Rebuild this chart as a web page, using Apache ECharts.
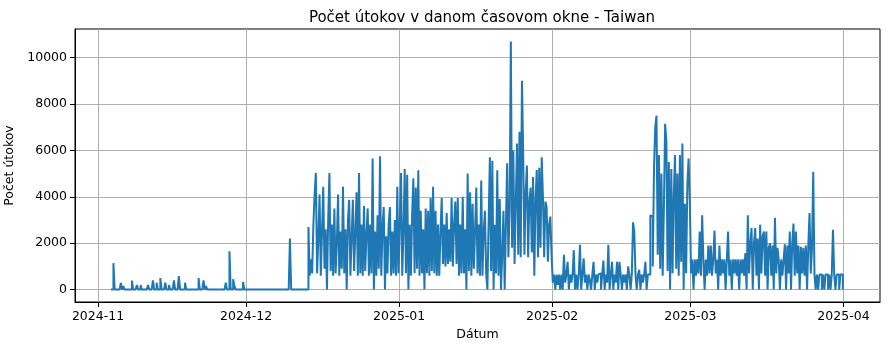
<!DOCTYPE html>
<html>
<head>
<meta charset="utf-8">
<script src="https://cdn.jsdelivr.net/npm/echarts@6/dist/echarts.min.js"></script>
<style>html,body{margin:0;padding:0;background:#fff}#c{width:888px;height:350px}</style>
</head>
<body>
<div id="c"></div>
<script>
// 6-hourly counts (00h, 06h, 12h, 18h per day), starting 2024-11-01 00:00 UTC
const nov = [
  null,null,null,null, null,null,null,null, null,null,null,0, 0,1140,0,0, 0,0,0,290,
  0,150,0,0, 0,0,0,0, 390,0,0,0, 200,0,0,200, 0,0,0,0,
  0,200,0,0, 0,400,0,0, 300,0,0,500, 0,0,0,300, 0,0,200,0,
  0,0,400,0, 0,0,580,0, 0,0,0,300, 0,0,0,0, 0,0,0,0,
  0,0,500,0, 0,0,400,0, 150,0,0,0, 0,0,0,0, 0,0,0,0,
  0,0,0,0, 300,0,0,1650, 0,0,450,150, 0,0,0,0, 0,0,330,0
];
const dec = [
  0,0,0,0, 0,0,0,0, 0,0,0,0, 0,0,0,0, 0,0,0,0,
  0,0,0,0, 0,0,0,0, 0,0,0,0, 0,0,0,0, 2200,0,0,0,
  0,0,0,0, 0,0,0,0, 0,0,0,2700, 600,1300,700,2800, 4100,5030,700,2200,
  4100,600,2500,4430, 900,2600,0,3000, 5030,800,2800,600, 3500,700,2000,4100, 600,2500,900,4430,
  700,2600,0,3000, 3870,600,2200,3870, 800,2500,4200,600, 5030,700,2800,600, 3600,800,2400,3500,
  600,2800,700,5650, 0,2500,600,3200, 900,5750,600,2700, 3560,0,2300,700, 2800,3560,600,2500,
  700,3000,600,4430
];
const jan = [
  700,2800,5030,600, 2500,5200,700,4950, 0,2800,600,3200, 4800,700,4400,900, 5150,600,3400,700,
  2600,0,3500,700, 3400,600,3950,800, 4430,700,3400,600, 2800,600,2500,3950, 1100,2800,1000,3300,
  1100,2600,1200,3950, 1000,2800,3800,1100, 3950,600,2800,700, 4000,700,2600,0, 5000,800,4200,600,
  3700,900,2500,4400, 700,2800,600,4700, 600,2500,3400,700, 0,2900,5700,800, 5550,0,2800,700,
  5150,600,3900,0, 1500,3400,0,2800, 5450,1400,3500,10700, 1800,6000,1100,3800, 6300,1500,6800,1400,
  9000,5850,1500,4200, 5350,1400,3800,4400, 1600,4850,600,3900, 5150,1400,5250,1800, 5700,4000,1400,3800,
  3550,1200,2800,3150
];
const feb = [
  1450,300,650,0, 650,200,650,0, 650,0,1500,300, 650,1200,0,650, 300,650,1700,0,
  650,0,650,1930, 0,650,1350,300, 650,0,650,400, 0,650,1200,0, 650,300,650,700,
  0,650,1250,0, 650,300,1930,0, 650,1200,0,650, 300,1200,0,1200, 650,0,650,300,
  650,0,1000,650, 0,650,2900,2500, 650,0,650,850, 0,650,300,650, 1200,0,650,650,
  3200,3150,1000,5300, 7000,7500,1500,5800, 900,5000,600,3500, 7150,6400,800,5500, 0,5200,700,4000,
  5800,900,5000,600, 5800,1200,6300,0, 3700,700,4500,5650
];
const mar = [
  3800,700,1300,0, 1300,600,1300,700, 2500,600,3200,1300, 0,1300,600,1900, 700,1900,600,1300,
  2550,700,1300,0, 1900,600,1300,700, 1300,0,1300,2500, 600,1300,0,1300, 700,1300,600,1300,
  0,1300,700,1300, 600,1570,0,3200, 700,2000,2650,0, 2000,2650,600,2200, 0,2800,700,2300,
  2500,600,2500,0, 1800,2000,600,1900, 0,3100,700,1800, 1300,0,1300,600, 1300,1950,0,1900,
  700,2500,0,2000, 2850,600,2500,700, 1900,0,1850,700, 1800,600,1900,0, 1900,3300,700,1800,
  5080,650,0,650, 0,650,650,0, 650,0,650,650, 0,650,0,650, 2580,650,0,650,
  650,0,650,650
];
const apr = [0];

const monthStarts = ['2024-11-01','2024-12-01','2025-01-01','2025-02-01','2025-03-01','2025-04-01'];
const xTickLabels = ['2024-11','2024-12','2025-01','2025-02','2025-03','2025-04'];
const yTicks = [0,2000,4000,6000,8000,10000];

const DAY = 864e5;
const t0 = Date.UTC(2024,10,1);
const all = [].concat(nov,dec,jan,feb,mar,apr);
const seriesData = all.map((v,i)=>[t0 + i*DAY/4, v]);
const monthTs = monthStarts.map(s=>Date.parse(s+'T00:00:00Z'));

const font = 'DejaVu Sans';
const chart = echarts.init(document.getElementById('c'), null, {renderer:'canvas'});
chart.setOption({
  animation: false,
  backgroundColor: '#fff',
  textStyle: {fontFamily: font},
  title: {
    text: 'Počet útokov v danom časovom okne - Taiwan',
    left: 477, top: 6, textAlign: 'center',
    textStyle: {fontFamily: font, fontSize: 15, fontWeight: 'normal', color: '#000'}
  },
  grid: {left: 75, right: 8, top: 29, bottom: 48, outerBoundsMode: 'none', containLabel: false,
    show: true, borderColor: '#000', borderWidth: 1, backgroundColor: 'transparent'},
  xAxis: {
    type: 'value',
    min: t0 - 4.66*DAY, max: t0 + 158.4*DAY,
    name: 'Dátum', nameLocation: 'middle', nameGap: 26,
    nameTextStyle: {fontFamily: font, fontSize: 12.5, color: '#000'},
    axisLine: {show: true, onZero: false, lineStyle: {color: '#000', width: 1}},
    axisTick: {show: true, inside: false, length: 5, lineStyle: {color: '#000'}, customValues: monthTs},
    axisLabel: {customValues: monthTs, margin: 8, fontFamily: font, fontSize: 12.5, color: '#000',
      formatter: function(v){ const i = monthTs.indexOf(v); return i>=0 ? xTickLabels[i] : ''; }},
    splitLine: {show: true, lineStyle: {color: '#b0b0b0', width: 1}}
  },
  yAxis: {
    type: 'value',
    min: -535, max: 11235,
    name: 'Počet útokov', nameLocation: 'middle', nameGap: 52, nameRotate: 90,
    nameTextStyle: {fontFamily: font, fontSize: 12.5, color: '#000'},
    axisLine: {show: true, onZero: false, lineStyle: {color: '#000', width: 1}},
    axisTick: {show: true, inside: false, length: 5, lineStyle: {color: '#000'}, customValues: yTicks},
    axisLabel: {customValues: yTicks, margin: 8, fontFamily: font, fontSize: 12.5, color: '#000',
      formatter: function(v){ return String(v); }},
    splitLine: {show: true, lineStyle: {color: '#b0b0b0', width: 1}}
  },
  series: [{
    type: 'line',
    data: seriesData,
    showSymbol: false,
    sampling: 'none',
    connectNulls: false,
    step: 'middle',
    lineStyle: {color: '#1f77b4', width: 2, join: 'bevel', cap: 'butt'},
    itemStyle: {color: '#1f77b4'}
  }]
});
</script>
</body>
</html>
